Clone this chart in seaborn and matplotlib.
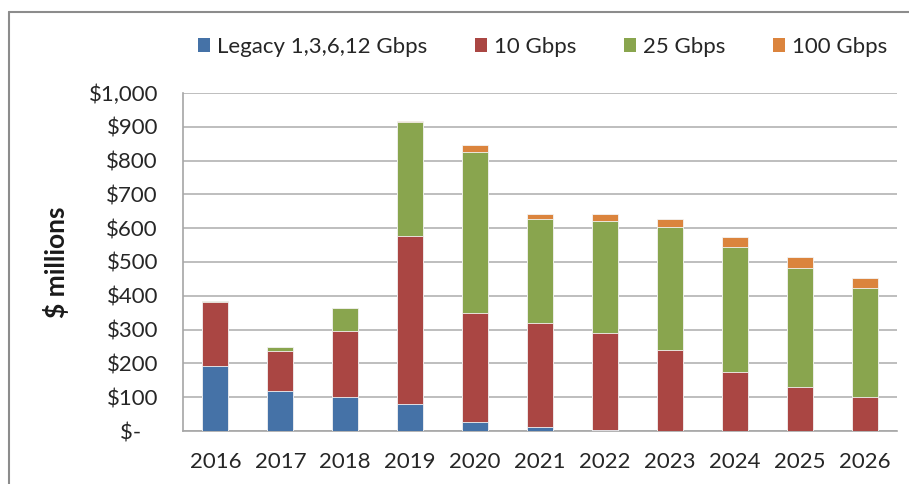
import numpy as np
import pandas as pd
import matplotlib
matplotlib.use('Agg')
import matplotlib.pyplot as plt
from matplotlib.patches import Patch
from matplotlib.lines import Line2D
import seaborn as sns

# Data ($ millions)
years = ['2016', '2017', '2018', '2019', '2020', '2021', '2022', '2023', '2024', '2025', '2026']
legacy = [193, 118, 101, 80, 27, 11, 2, 0, 0, 0, 0]
g10 = [189, 120, 195, 497, 322, 309, 287, 240, 175, 130, 101]
g25 = [3, 10, 67, 338, 477, 307, 332, 364, 370, 352, 323]
g100 = [0, 0, 0, 2, 20, 15, 21, 23, 29, 33, 30]

series_names = ['Legacy 1,3,6,12 Gbps', '10 Gbps', '25 Gbps', '100 Gbps']
colors = ['#4572A7', '#AA4643', '#89A54E', '#DB843D']
ytick_vals = [0, 100, 200, 300, 400, 500, 600, 700, 800, 900, 1000]
ytick_labels = ['$-   ', '$100', '$200', '$300', '$400', '$500', '$600', '$700', '$800', '$900', '$1,000']

sns.set_style('white')
plt.rcParams['font.family'] = ['Lato', 'DejaVu Sans']

df = pd.DataFrame({'year': years, 'legacy': legacy, 'g10': g10, 'g25': g25, 'g100': g100})
# cumulative tops for stacking (draw tallest first, then overdraw)
df['c1'] = df['legacy']
df['c2'] = df['c1'] + df['g10']
df['c3'] = df['c2'] + df['g25']
df['c4'] = df['c3'] + df['g100']

fig = plt.figure(figsize=(9.09, 4.84), dpi=100)
ax = fig.add_axes([183 / 909, 53 / 484, 714 / 909, 338 / 484])

for col, color in zip(['c4', 'c3', 'c2', 'c1'], colors[::-1]):
    sns.barplot(data=df, x='year', y=col, color=color, width=0.4,
                edgecolor='#f4f4f4', linewidth=0.6, saturation=1, ax=ax, zorder=3)

ax.set_xlim(-0.5, len(years) - 0.5)
ax.set_ylim(0, 1000)
ax.set_yticks(ytick_vals)
ax.set_yticklabels(ytick_labels)
ax.set_xlabel('')
ax.set_ylabel('')

ax.yaxis.grid(True, color='#BEBEBE', linewidth=1.4, zorder=0)
ax.set_axisbelow(True)

for s in ['top', 'right']:
    ax.spines[s].set_visible(False)
for s in ['left', 'bottom']:
    ax.spines[s].set_color('#A6A6A6')
    ax.spines[s].set_linewidth(1.2)

ax.tick_params(axis='y', length=7, color='#A6A6A6', width=1.2, labelsize=16, pad=11,
               labelcolor='#262626')
ax.tick_params(axis='x', which='major', length=0, labelsize=16, pad=15, labelcolor='#262626')
ax.set_xticks(np.arange(-0.5, len(years), 1.0), minor=True)
ax.tick_params(axis='x', which='minor', length=7, color='#A6A6A6', width=1.2)

fig.text(56 / 909, 1 - 262 / 484, '$ millions', rotation=90, fontsize=19, fontweight='bold',
         ha='center', va='center', color='#1a1a1a')

handles = [Patch(facecolor=c, edgecolor='none') for c in colors]
fig.legend(handles, series_names, loc='center left', bbox_to_anchor=(178 / 909, 1 - 47 / 484),
           ncol=4, frameon=False, fontsize=16, handlelength=0.55, handleheight=0.6,
           handletextpad=0.3, columnspacing=2.15, labelcolor='#262626')

# outer chart frame (left and top edges visible)
fig.add_artist(Line2D([8.5 / 909, 8.5 / 909], [0, 1 - 12 / 484], color='#8C8C8C', linewidth=1.5,
                      transform=fig.transFigure))
fig.add_artist(Line2D([8.5 / 909, 1], [1 - 12 / 484, 1 - 12 / 484], color='#8C8C8C', linewidth=1.5,
                      transform=fig.transFigure))

fig.savefig('out.png', dpi=100)
